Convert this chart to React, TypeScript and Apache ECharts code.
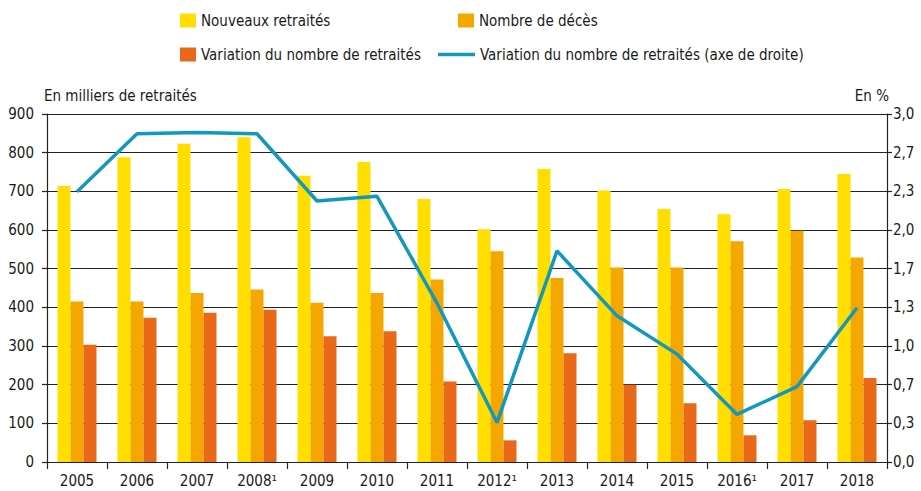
import React, { useEffect, useRef } from "react";
import * as echarts from "echarts";

const years = ["2005", "2006", "2007", "2008¹", "2009", "2010", "2011", "2012¹", "2013", "2014", "2015", "2016¹", "2017", "2018"];
const nouveauxRetraites = [714, 788, 823, 840, 740, 776, 680, 602, 758, 702, 654, 641, 706, 745];
const nombreDeces = [415, 415, 437, 446, 412, 437, 472, 545, 476, 503, 503, 571, 598, 529];
const variationNombre = [303, 373, 386, 394, 325, 338, 208, 56, 281, 200, 152, 69, 108, 217];
const variationPct = [2.33, 2.83, 2.84, 2.83, 2.25, 2.29, 1.37, 0.34, 1.82, 1.26, 0.93, 0.41, 0.65, 1.33];

const NAMES = [
  "Nouveaux retraités",
  "Nombre de décès",
  "Variation du nombre de retraités",
  "Variation du nombre de retraités (axe de droite)",
];
const COLORS = ["#FFDE00", "#F5A700", "#EA6919", "#1298BE"];
const FONT = "'Liberation Sans Narrow', 'DejaVu Sans Condensed', 'Arial Narrow', sans-serif";
const TXT = "#1a1a1a";
const FS = 15;

export default function App() {
  const ref = useRef<HTMLDivElement>(null);
  useEffect(() => {
    if (!ref.current) return;
    const chart = echarts.init(ref.current, null, { renderer: "svg" });
    const legendBase = {
      orient: "horizontal" as const,
      itemGap: 0,
      textStyle: { fontFamily: FONT, fontSize: FS, color: TXT },
      selectedMode: false,
    };
    chart.setOption({
      animation: false,
      textStyle: { fontFamily: FONT },
      legend: [
        { ...legendBase, data: [NAMES[0]], left: 175, top: 8, itemWidth: 16, itemHeight: 14, icon: "rect" },
        { ...legendBase, data: [NAMES[1]], left: 453, top: 8, itemWidth: 16, itemHeight: 14, icon: "rect" },
        { ...legendBase, data: [NAMES[2]], left: 175, top: 42, itemWidth: 16, itemHeight: 14, icon: "rect" },
        { ...legendBase, data: [NAMES[3]], left: 433, top: 42, itemWidth: 37, itemHeight: 3.5, icon: "rect" },
      ],
      grid: { left: 47, right: 34, top: 114, bottom: 29, containLabel: false },
      xAxis: {
        type: "category",
        data: years,
        axisLine: { lineStyle: { color: "#222", width: 1.2 } },
        axisTick: { show: true, length: 7, lineStyle: { color: "#222", width: 1.2 } },
        axisLabel: { color: TXT, fontSize: FS, fontFamily: FONT, margin: 11 },
      },
      yAxis: [
        {
          type: "value",
          min: 0,
          max: 900,
          interval: 100,
          name: "En milliers de retraités",
          nameLocation: "end",
          nameGap: 18,
          nameTextStyle: { color: TXT, fontSize: FS, fontFamily: FONT, align: "left", verticalAlign: "middle", padding: [0, 0, 0, -3] },
          axisLine: { show: true, lineStyle: { color: "#222", width: 1.2 } },
          axisTick: { show: true, length: 5, lineStyle: { color: "#222", width: 1.2 } },
          axisLabel: { color: TXT, fontSize: FS, fontFamily: FONT, margin: 13 },
          splitLine: { show: true, lineStyle: { color: "#222", width: 1 } },
        },
        {
          type: "value",
          min: 0,
          max: 3,
          interval: 1 / 3,
          name: "En %",
          nameLocation: "end",
          nameGap: 18,
          nameTextStyle: { color: TXT, fontSize: FS, fontFamily: FONT, align: "right", verticalAlign: "middle", padding: [0, -2, 0, 0] },
          axisLine: { show: true, lineStyle: { color: "#222", width: 1.2 } },
          axisTick: { show: true, length: 5, lineStyle: { color: "#222", width: 1.2 } },
          axisLabel: {
            color: TXT,
            fontSize: FS,
            fontFamily: FONT,
            margin: 6,
            formatter: (v: number) => v.toFixed(1).replace(".", ","),
          },
          splitLine: { show: false },
        },
      ],
      series: [
        { name: NAMES[0], type: "bar", data: nouveauxRetraites, barWidth: 13, barGap: "0%", itemStyle: { color: COLORS[0] } },
        { name: NAMES[1], type: "bar", data: nombreDeces, barWidth: 13, barGap: "0%", itemStyle: { color: COLORS[1] } },
        { name: NAMES[2], type: "bar", data: variationNombre, barWidth: 13, barGap: "0%", itemStyle: { color: COLORS[2] } },
        {
          name: NAMES[3],
          type: "line",
          yAxisIndex: 1,
          data: variationPct,
          symbol: "none",
          showSymbol: false,
          z: 5,
          lineStyle: { color: COLORS[3], width: 3.5 },
          itemStyle: { color: COLORS[3] },
        },
      ],
    });
    return () => chart.dispose();
  }, []);
  return <div ref={ref} style={{ position: "absolute", left: 0, top: 0, width: 921, height: 491 }} />;
}
